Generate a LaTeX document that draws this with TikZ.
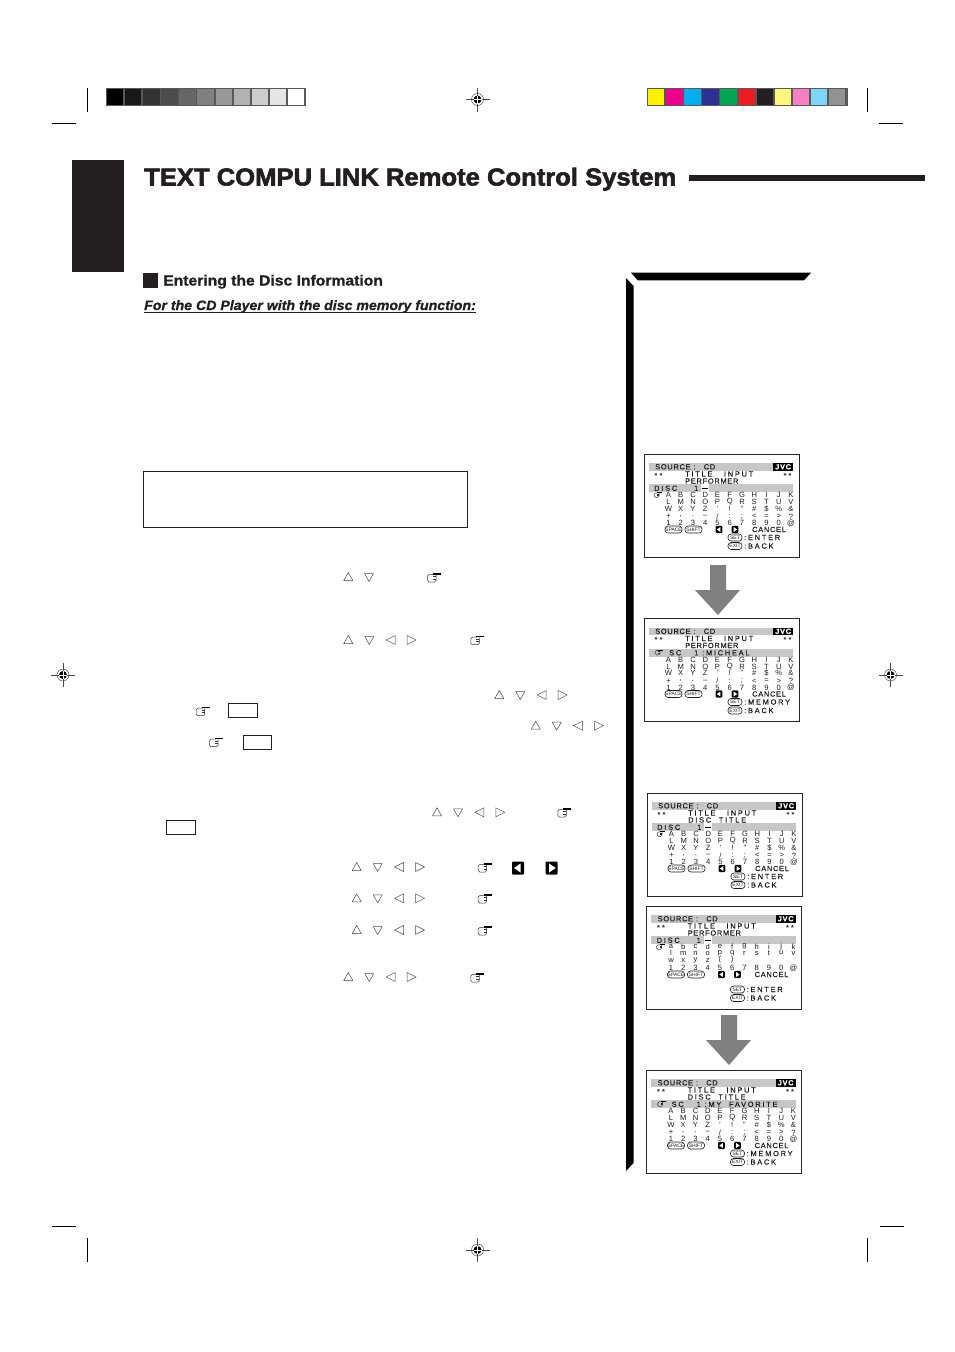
\documentclass[tikz,border=0pt]{standalone}
\usepackage{fontspec}
\setmainfont{Liberation Sans}
\newfontfamily\headfont[FakeBold=2.4, FakeStretch=1.045]{Liberation Sans Bold}
\newfontfamily\subfont[FakeBold=1, FakeStretch=1.075]{Liberation Sans Bold}
\newfontfamily\slantfont[FakeBold=1, FakeStretch=1.04]{Liberation Sans Bold Italic}
\newfontfamily\lcdfont[LetterSpace=10, FakeBold=0.3]{Liberation Sans}
\newfontfamily\lcdwide[LetterSpace=24, FakeBold=0.3]{Liberation Sans}
\definecolor{inkdark}{HTML}{231F20}
\definecolor{lcdink}{HTML}{1E1E1E}
\tikzset{
    cropline/.style={black, line width=0.7pt},
    swatchbox/.style={draw=black!65, line width=0.8pt},
    tribtn/.style={black!70, line width=0.5pt},
    handline/.style={black!80, line width=0.5pt},
    notebox/.style={draw=inkdark, line width=0.7pt},
    bigarrow/.style={fill=black!50},
    lcdframe/.style={draw=black!85, line width=1pt},
    lcdbar/.style={fill=black!22},
    lcdtext/.style={anchor=west, inner sep=0pt, text=lcdink, font=\lcdfont\fontsize{7.4}{8}\selectfont},
    lcdspread/.style={lcdtext, font=\lcdwide\fontsize{7.4}{8}\selectfont},
    lcdchar/.style={inner sep=0pt, text=lcdink, font=\fontsize{7.6}{8}\selectfont},
    lcdkey/.style={draw=lcdink, line width=0.6pt, rounded corners=3pt, inner sep=0pt, minimum height=7pt, text=lcdink, font=\fontsize{5}{5}\selectfont},
}
\newcommand\triup[1]{\draw[tribtn] (#1) ++(-4.5,3.5) -- ++(9,0) -- ++(-4.5,-8) -- cycle;}
\newcommand\tridown[1]{\draw[tribtn] (#1) ++(-4.5,-3.5) -- ++(9,0) -- ++(-4.5,8) -- cycle;}
\newcommand\trileft[1]{\draw[tribtn] (#1) ++(4.5,-4.5) -- ++(0,9) -- ++(-9,-4.5) -- cycle;}
\newcommand\triright[1]{\draw[tribtn] (#1) ++(-4.5,-4.5) -- ++(0,9) -- ++(9,-4.5) -- cycle;}
\newcommand\handicon[3][1]{%
    \begin{scope}[shift={(#2,#3)}, scale=#1]
        \draw[handline, rounded corners=1.5pt] (0,-3.5) -- (-6.5,-3.5) -- (-6.5,4) -- (2,4) -- (2,-3);
        \draw[black, line width=#1*1.2pt] (-1,-4) -- (7,-4);
        \draw[handline] (-1,-1.5) -- (2,-1.5) (-1,1) -- (2,1);
    \end{scope}}
\newcommand\blackkey[4][1]{%
    \begin{scope}[shift={(#2,#3)}, scale=#1, xscale=#4]
        \fill[black, rounded corners=1pt] (-6,-6.5) rectangle (6,6.5);
        \fill[white] (-2.5,-4.5) -- (-2.5,4.5) -- (4,0) -- cycle;
    \end{scope}}
\newcommand\lcdrow[3]{%
    \foreach \ch [count=\ci from 0] in {#3}
        \node[lcdchar] (#1\ci) at ({24.5+12.25*\ci},#2) {\ch};}
\newcommand\lcdhead[1]{%
    \draw[lcdframe] (0,0) rectangle (155,103);
    \fill[lcdbar] (4.5,9) rectangle (129,16.5);
    \fill[black] (129,9) rectangle (149,16.5);
    \node[lcdtext] (source) at (11,12.8) {SOURCE :\ \ \ CD};
    \node[lcdtext, text=white, font=\lcdfont\bfseries\fontsize{7.4}{8}\selectfont] (logo) at (131,12.8) {JVC};
    \node[lcdtext, font=\bfseries\fontsize{7.4}{8}\selectfont] (starl) at (10.5,21.5) {* *};
    \node[lcdtext, font=\bfseries\fontsize{7.4}{8}\selectfont] (starr) at (139.5,21.5) {* *};
    \node[lcdspread] (title) at (41,20) {TITLE\ \ \ INPUT};
    \node[#1] (kind) at (41,27) {\lcdkind};}
\newcommand\lcdbarline[3]{%
    \fill[lcdbar] (4.5,30) rectangle (149,38);
    \node[lcdspread] (barleft) at (#1,34.3) {#2};
    \node[lcdspread] (barright) at (50,34.3) {#3};}
\newcommand\lcdcursor{%
    \fill[white] (57,29.5) rectangle (65,38.5);
    \draw[black, line width=0.9pt] (58,34) -- (64,34);}
\newcommand\lcdupper{%
    \lcdrow{ra}{41}{A,B,C,D,E,F,G,H,I,J,K}
    \lcdrow{rb}{48}{L,M,N,O,P,Q,R,S,T,U,V}
    \lcdrow{rc}{54.5}{W,X,Y,Z,',!,",\#,\$,\%,\&}
    \lcdrow{rd}{62.5}{+,{,},.,--,/,:,;,<,=,>,?}
    \lcdrow{re}{69}{1,2,3,4,5,6,7,8,9,0,@}}
\newcommand\lcdlower{%
    \lcdrow{ra}{40.5}{a,b,c,d,e,f,g,h,i,j,k}
    \lcdrow{rb}{47}{l,m,n,o,p,q,r,s,t,u,v}
    \lcdrow{rc}{54}{w,x,y,z,{(},{)}}
    \lcdrow{re}{62}{1,2,3,4,5,6,7,8,9,0,@}}
\newcommand\lcdkeys[1]{%
    \node[lcdkey, minimum width=17pt] (spacekey) at (29.5,#1) {SPACE};
    \node[lcdkey, minimum width=17pt] (shiftkey) at (49.5,#1) {SHIFT};
    \blackkey[0.55]{75}{#1}{-1}
    \blackkey[0.55]{91}{#1}{1}
    \node[lcdtext] (cancel) at (108,#1) {CANCEL};}
\newcommand\lcdfoot[1]{%
    \node[lcdkey, minimum width=14pt] (setkey) at (91,83.5) {SET};
    \node[lcdkey, minimum width=14pt] (exitkey) at (91,92) {EXIT};
    \node[lcdspread] (action) at (100,83.5) {:#1};
    \node[lcdspread] (back) at (100,92) {:BACK};}
\begin{document}
\begin{tikzpicture}[x=1pt, y=-1pt]
    \useasboundingbox (0,0) rectangle (954,1352);

    %marcas de corte
    \draw[cropline] (87.5,88) -- (87.5,112);
    \draw[cropline] (867.5,88) -- (867.5,112);
    \draw[cropline] (52,123.5) -- (76,123.5);
    \draw[cropline] (879,123.5) -- (903,123.5);
    \draw[cropline] (52,1226) -- (76,1226);
    \draw[cropline] (880,1226) -- (904,1226);
    \draw[cropline] (87.5,1238) -- (87.5,1262);
    \draw[cropline] (867.5,1238) -- (867.5,1262);

    %registro
    \foreach \mx/\my in {477.5/99.5, 477.5/1250, 63/675, 890.5/675} {
        \draw[black!70, line width=0.5pt] (\mx-12,\my) -- (\mx+12,\my);
        \draw[black!70, line width=0.5pt] (\mx,\my-12) -- (\mx,\my+12);
        \draw[black!70, line width=0.5pt] (\mx,\my) circle (6);
        \fill[black] (\mx,\my) circle (4);
        \draw[white, line width=0.5pt] (\mx-4,\my) -- (\mx+4,\my) (\mx,\my-4) -- (\mx,\my+4);
    }

    %barras de cor
    \draw[swatchbox, fill=black!65] (106.4,88.4) rectangle (305.6,105.6);
    \foreach \sw [count=\si from 0] in {100,90,80,70,60,50,40,30,20,10,0} {
        \fill[black!\sw!white] (107+18.09*\si,89) rectangle (123.4+18.09*\si,105);
    }
    \draw[swatchbox, fill=black!65] (647.4,88.4) rectangle (847.6,105.6);
    \foreach \sw [count=\si from 0] in {FFF200,EC008C,00AEEF,2E3192,00A651,ED1C24,231F20,FFF67F,F680C4,7FD6F7,939393} {
        \definecolor{swatchcol}{HTML}{\sw}
        \fill[swatchcol] (648+18.1*\si,89) rectangle (664.4+18.1*\si,105);
    }

    %cabecalho
    \fill[inkdark] (72,160) rectangle (124,272);
    \node[anchor=base west, inner sep=0pt, text=inkdark, font=\headfont\fontsize{24.5}{26}\selectfont] (pagetitle) at (144,185.5) {TEXT COMPU LINK Remote Control System};
    \fill[inkdark] (689,175) rectangle (925,180.8);

    \fill[inkdark] (143,273) rectangle (158,288);
    \node[anchor=base west, inner sep=0pt, text=inkdark, font=\subfont\fontsize{14.6}{16}\selectfont] (discinfo) at (163,285.5) {Entering the Disc Information};
    \node[anchor=base west, inner sep=0pt, text=inkdark, font=\slantfont\fontsize{13.6}{15}\selectfont] (cdplayer) at (144,310) {For the CD Player with the disc memory function:};
    \draw[inkdark, line width=1pt] (144,312.7) -- (476,312.7);

    %caixas vazias
    \draw[notebox] (143.5,471.5) rectangle (467.5,527.5);
    \draw[notebox] (228.3,703.3) rectangle (257.7,717.7);
    \draw[notebox] (243.3,735.3) rectangle (271.7,749.7);
    \draw[notebox] (166.3,820.3) rectangle (195.7,834.7);

    %setas
    \triup{348.3,577}
    \tridown{369,577}
    \foreach \tx/\ty in {348.3/640, 499.3/695, 535.7/725.7, 437/812.3, 356.7/867, 356.7/898.3, 356.7/930, 348.3/977} {
        \triup{\tx,\ty}
        \tridown{\tx+21,\ty}
        \trileft{\tx+42.3,\ty}
        \triright{\tx+63.3,\ty}
    }

    %maos
    \foreach \hx/\hy in {434/578, 477.3/640.7, 202.7/711.7, 216/742.7, 564.3/813, 484.7/868, 484.7/899, 484.7/931, 477.3/978} {
        \handicon{\hx}{\hy}
    }
    \blackkey{518}{868}{-1}
    \blackkey{551.7}{868}{1}

    %barra em L
    \fill[black] (631,272.7) -- (811,272.7) -- (804,280.3) -- (637.7,280.3) -- cycle;
    \fill[black] (626,278) -- (633.5,286) -- (633.5,1163) -- (626,1171) -- cycle;

    %setas grandes
    \fill[bigarrow] (710,565) -- (726,565) -- (726,590) -- (740,590) -- (718,615) -- (695,590) -- (710,590) -- cycle;
    \fill[bigarrow] (721,1015) -- (737,1015) -- (737,1040) -- (751,1040) -- (729,1065) -- (706,1040) -- (721,1040) -- cycle;

    %telas
    \begin{scope}[shift={(644,454)}, name prefix=one-]
        \def\lcdkind{PERFORMER}
        \lcdhead{lcdtext}
        \lcdbarline{10}{DISC}{1 :}
        \lcdcursor
        \handicon[0.6]{14}{41}
        \lcdupper
        \lcdkeys{75.5}
        \lcdfoot{ENTER}
    \end{scope}

    \begin{scope}[shift={(644,618.5)}, name prefix=two-]
        \def\lcdkind{PERFORMER}
        \lcdhead{lcdtext}
        \lcdbarline{25}{SC}{1 :MICHEAL}
        \handicon[0.6]{15}{34}
        \lcdupper
        \lcdkeys{75.5}
        \lcdfoot{MEMORY}
    \end{scope}

    \begin{scope}[shift={(647,793)}, name prefix=three-]
        \def\lcdkind{DISC\ \ TITLE}
        \lcdhead{lcdspread}
        \lcdbarline{10}{DISC}{1 :}
        \lcdcursor
        \handicon[0.6]{14}{41}
        \lcdupper
        \lcdkeys{75.5}
        \lcdfoot{ENTER}
    \end{scope}

    \begin{scope}[shift={(646.5,906)}, name prefix=four-]
        \def\lcdkind{PERFORMER}
        \lcdhead{lcdtext}
        \lcdbarline{10}{DISC}{1 :}
        \lcdcursor
        \handicon[0.6]{14}{41}
        \lcdlower
        \lcdkeys{68.5}
        \lcdfoot{ENTER}
    \end{scope}

    \begin{scope}[shift={(646.5,1070)}, name prefix=five-]
        \def\lcdkind{DISC\ \ TITLE}
        \lcdhead{lcdspread}
        \lcdbarline{25}{SC}{1 :MY\ \ FAVORITE}
        \handicon[0.6]{15}{34}
        \lcdupper
        \lcdkeys{75.5}
        \lcdfoot{MEMORY}
    \end{scope}
\end{tikzpicture}
\end{document}
